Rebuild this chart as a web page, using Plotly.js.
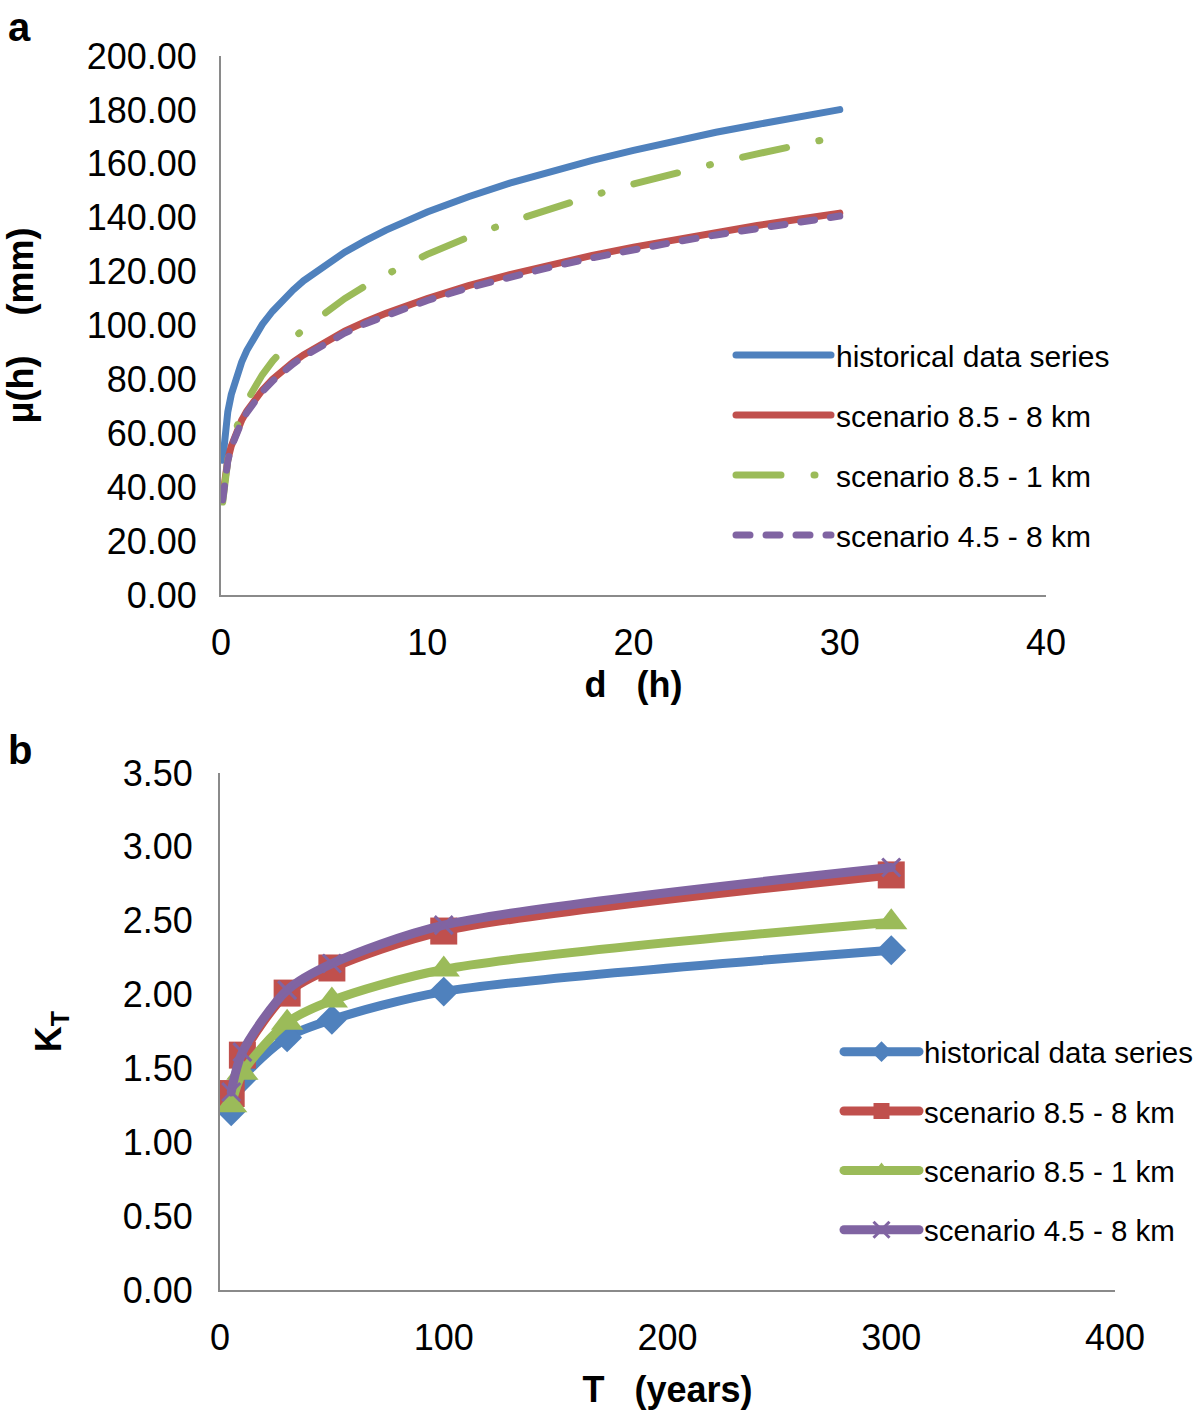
<!DOCTYPE html>
<html><head><meta charset="utf-8">
<script src="https://cdn.plot.ly/plotly-3.0.1.min.js"></script>
<style>
html,body{margin:0;padding:0;background:#fff;}
#chart .js-line{stroke-linecap:round;}
</style></head><body>
<div id="chart" style="width:1200px;height:1410px;"></div>
<script>
// ---- Panel a: mean annual maximum rainfall depth vs duration ----
const durationH = [0.083, 0.17, 0.25, 0.33, 0.5, 0.75, 1, 1.25, 1.5, 2, 2.5, 3, 3.5, 4, 5, 6, 7, 8, 10, 12, 14, 16, 18, 20, 22, 24, 26, 28, 30];
const muHistorical = [50, 58.9, 64, 68, 74.4, 81.2, 86.4, 90.7, 94.3, 100.4, 105.3, 109.5, 113.2, 116.6, 122.3, 127.2, 131.5, 135.4, 142.1, 147.8, 152.8, 157.3, 161.3, 165, 168.5, 171.7, 174.6, 177.5, 180.1];
const muScen85_8km = [36.6, 43.1, 47.1, 50.2, 55.3, 60.7, 64.8, 68.2, 71.1, 76, 80, 83.4, 86.4, 89.1, 93.8, 97.9, 101.4, 104.5, 110, 114.8, 118.9, 122.6, 126, 129.1, 131.9, 134.6, 137.1, 139.4, 141.7];
const muScen85_1km = [34.5, 41.9, 46.5, 50.1, 56.1, 62.6, 67.7, 71.9, 75.6, 81.7, 86.8, 91.2, 95.1, 98.6, 104.7, 110, 114.7, 118.9, 126.4, 132.8, 138.4, 143.5, 148.2, 152.5, 156.5, 160.2, 163.7, 167, 170.2];
const muScen45_8km = [35.3, 42.7, 46.7, 49.8, 54.9, 60.3, 64.3, 67.7, 70.6, 75.4, 79.4, 82.8, 85.8, 88.5, 93.2, 97.2, 100.7, 103.8, 109.3, 114, 118.1, 121.7, 125.1, 128.2, 131, 133.6, 136.1, 138.4, 140.6];

// ---- Panel b: growth factor KT vs return period ----
const returnPeriodT = [5, 10, 30, 50, 100, 300];
const ktHistorical = [1.21, 1.43, 1.71, 1.83, 2.02, 2.30];
const ktScen85_8km = [1.33, 1.59, 2.01, 2.18, 2.43, 2.81];
const ktScen85_1km = [1.25, 1.47, 1.81, 1.96, 2.17, 2.49];
const ktScen45_8km = [1.34, 1.61, 2.03, 2.21, 2.47, 2.86];

const seriesNames = ['historical data series', 'scenario 8.5 - 8 km', 'scenario 8.5 - 1 km', 'scenario 4.5 - 8 km'];
const colors = ['#4F81BD', '#C0504D', '#9BBB59', '#8064A2'];

const W = 1200, H = 1410;
const px = v => v / W, py = v => 1 - v / H;

const FONT = 'Liberation Sans, Arial, Helvetica, sans-serif';

const aY = [muHistorical, muScen85_8km, muScen85_1km, muScen45_8km];
const aDash = ['solid', 'solid', '45px,33px,1px,33px', '14px,16px'];
const traces = [];
aY.forEach((ys, i) => {
  traces.push({
    type: 'scatter', mode: 'lines', x: durationH, y: ys, name: seriesNames[i],
    xaxis: 'x', yaxis: 'y', legend: 'legend', legendgroup: 'a' + i,
    line: {color: colors[i], width: 7, dash: aDash[i], shape: 'linear'}
  });
});
const bY = [ktHistorical, ktScen85_8km, ktScen85_1km, ktScen45_8km];
const bSym = ['diamond', 'square', 'triangle-up', 'x-thin'];
const bSize = [23, 27, 28, 18];
bY.forEach((ys, i) => {
  traces.push({
    type: 'scatter', mode: 'lines+markers', x: returnPeriodT, y: ys, name: seriesNames[i],
    xaxis: 'x2', yaxis: 'y2', legend: 'legend2', legendgroup: 'b' + i,
    line: {color: colors[i], width: 9, shape: 'spline', smoothing: 0.8},
    marker: {symbol: bSym[i], size: bSize[i], color: colors[i],
             line: {color: colors[i], width: i === 3 ? 3 : 0}}
  });
});

const axisCommon = {
  showgrid: false, zeroline: false, showline: true, linecolor: '#8a8a8a', linewidth: 2,
  ticks: '', tickfont: {family: FONT, size: 36, color: '#000'}, fixedrange: true
};
const titleFont = {family: FONT, size: 36, color: '#000', weight: 700};

const layout = {
  width: W, height: H, margin: {l: 0, r: 0, t: 0, b: 0},
  paper_bgcolor: '#fff', plot_bgcolor: '#fff', showlegend: true,
  xaxis: Object.assign({}, axisCommon, {
    domain: [px(221), px(1046)], range: [0, 40], tickvals: [0, 10, 20, 30, 40],
    ticklabelstandoff: 15,
    anchor: 'y', title: {text: 'd   (h)', font: titleFont, standoff: 10}
  }),
  yaxis: Object.assign({}, axisCommon, {
    domain: [py(595), py(56)], range: [0, 200], dtick: 20, tick0: 0, tickformat: '.2f',
    ticklabelstandoff: 15,
    anchor: 'x', title: {text: 'μ(h)    (mm)', font: titleFont, standoff: 42}
  }),
  xaxis2: Object.assign({}, axisCommon, {
    domain: [px(220), px(1115)], range: [0, 400], tickvals: [0, 100, 200, 300, 400],
    ticklabelstandoff: 15,
    anchor: 'y2', title: {text: 'T   (years)', font: titleFont, standoff: 22}
  }),
  yaxis2: Object.assign({}, axisCommon, {
    domain: [py(1290), py(773)], range: [0, 3.5], dtick: 0.5, tick0: 0, tickformat: '.2f',
    ticklabelstandoff: 18,
    anchor: 'x2', title: {text: 'K<sub>T</sub>', font: titleFont, standoff: 50}
  }),
  legend: {
    x: px(731), y: py(329), xanchor: 'left', yanchor: 'top', bgcolor: 'rgba(0,0,0,0)',
    font: {family: FONT, size: 30, color: '#000'}, itemwidth: 95, tracegroupgap: 18,
    traceorder: 'grouped'
  },
  legend2: {
    x: px(839), y: py(1026), xanchor: 'left', yanchor: 'top', bgcolor: 'rgba(0,0,0,0)',
    font: {family: FONT, size: 29.5, color: '#000'}, itemwidth: 75, tracegroupgap: 18,
    traceorder: 'grouped'
  },
  annotations: [
    {text: 'a', xref: 'paper', yref: 'paper', x: px(6), y: py(3), xanchor: 'left', yanchor: 'top',
     showarrow: false, font: {family: FONT, size: 40, color: '#000', weight: 700}},
    {text: 'b', xref: 'paper', yref: 'paper', x: px(6), y: py(726), xanchor: 'left', yanchor: 'top',
     showarrow: false, font: {family: FONT, size: 40, color: '#000', weight: 700}}
  ]
};

Plotly.newPlot('chart', traces, layout, {staticPlot: true, displayModeBar: false});
</script></body></html>
